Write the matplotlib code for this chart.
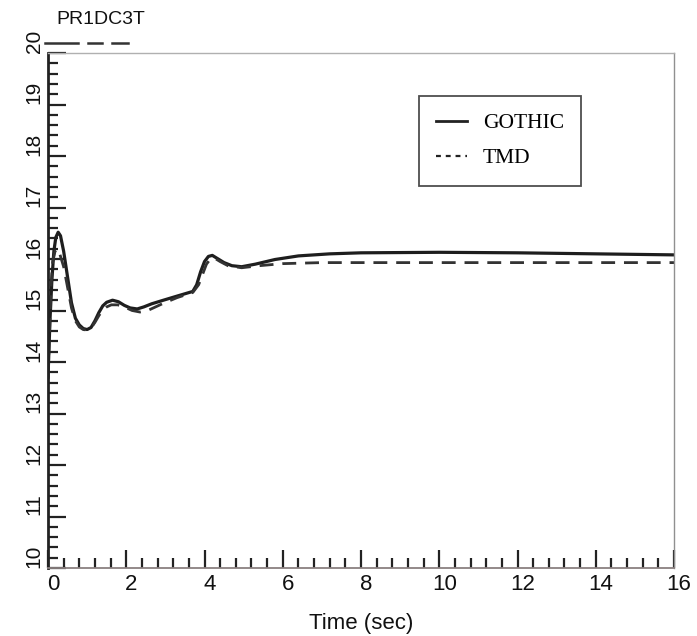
import matplotlib
matplotlib.use('Agg')
import matplotlib.pyplot as plt
from matplotlib.lines import Line2D
from matplotlib.transforms import ScaledTranslation

# values
t_gothic = [0.0, 0.05, 0.1, 0.15, 0.2, 0.26, 0.32, 0.4, 0.5, 0.6, 0.7, 0.8, 0.9, 1.0,
            1.1, 1.2, 1.3, 1.4, 1.5, 1.65, 1.8, 1.95, 2.1, 2.28, 2.45, 2.65, 2.95, 3.3,
            3.7, 3.8, 3.9, 4.0, 4.1, 4.2, 4.35, 4.5, 4.7, 4.95, 5.3, 5.8, 6.4, 7.2, 8.0,
            10.0, 12.0, 14.0, 16.0]
gothic = [13.7, 14.8, 15.6, 16.15, 16.42, 16.52, 16.45, 16.15, 15.65, 15.15, 14.85, 14.72,
          14.65, 14.63, 14.67, 14.8, 14.96, 15.09, 15.16, 15.2, 15.17, 15.1, 15.05, 15.03,
          15.07, 15.13, 15.2, 15.28, 15.37, 15.5, 15.75, 15.95, 16.05, 16.07, 16.0, 15.93,
          15.87, 15.85, 15.9, 15.99, 16.06, 16.1, 16.12, 16.13, 16.12, 16.1, 16.08]

t_tmd = [0.0, 0.04, 0.08, 0.12, 0.18, 0.24, 0.3, 0.4, 0.5, 0.6, 0.7, 0.8, 0.9, 1.0, 1.1,
         1.2, 1.3, 1.4, 1.5, 1.62, 1.78, 1.95, 2.15, 2.35, 2.55, 2.75, 2.95, 3.3, 3.7, 3.85,
         3.95, 4.05, 4.15, 4.25, 4.4, 4.6, 4.95, 5.4, 6.0, 7.0, 8.0, 10.0, 12.0, 14.0, 16.0]
tmd = [13.7, 14.6, 15.5, 15.95, 16.15, 16.2, 16.1, 15.85, 15.45, 15.05, 14.8, 14.68,
       14.63, 14.62, 14.66, 14.77, 14.9, 15.01, 15.07, 15.11, 15.11, 15.07, 15.0, 14.97,
       15.0, 15.07, 15.14, 15.25, 15.35, 15.5, 15.7, 15.9, 16.0, 16.02, 15.95, 15.87,
       15.83, 15.87, 15.91, 15.93, 15.93, 15.93, 15.93, 15.93, 15.93]

xticks = [0, 2, 4, 6, 8, 10, 12, 14, 16]
yticks = [10, 11, 12, 13, 14, 15, 16, 17, 18, 19, 20]

sans = ['Liberation Sans Narrow', 'Liberation Sans', 'DejaVu Sans']
serif = ['Liberation Serif', 'DejaVu Serif']

fig = plt.figure(figsize=(6.97, 6.36), dpi=100)
ax = fig.add_axes([48/697, 1-568/636, 626/697, 515/636])

ax.plot(t_gothic, gothic, color='#1e1e1e', lw=2.3)
ax.plot(t_tmd, tmd, color='#333333', lw=2.0, dashes=(5, 3.2))

ax.set_xlim(0, 16)
ax.set_ylim(10, 20)
ax.set_xticks(xticks)
ax.set_yticks(yticks)
ax.set_xticks([i*0.4 for i in range(41)], minor=True)
ax.set_yticks([10 + i*0.2 for i in range(51)], minor=True)
ax.tick_params(which='both', direction='in', colors='#222', width=1.6,
               top=False, right=False)
ax.tick_params(which='major', length=13, pad=4)
ax.tick_params(which='minor', length=7)
ax.tick_params(axis='y', pad=3)

ax.set_xticklabels([str(v) for v in xticks], fontsize=16, family=sans, color='#111')
ax.set_yticklabels([str(v) for v in yticks], fontsize=15, family=sans, color='#111',
                   rotation=90, va='center')
for lab in ax.get_xticklabels():
    lab.set_transform(lab.get_transform() + ScaledTranslation(5/100, 0, fig.dpi_scale_trans))
for lab in ax.get_yticklabels():
    lab.set_transform(lab.get_transform() + ScaledTranslation(0, 12/100, fig.dpi_scale_trans))

ax.set_xlabel('Time (sec)', fontsize=16, family=sans, color='#111', labelpad=13)

ax.spines['left'].set_color('#222')
ax.spines['left'].set_linewidth(2.0)
ax.spines['bottom'].set_color('#8a8080')
ax.spines['bottom'].set_linewidth(1.3)
ax.spines['top'].set_color('#b0b0b0')
ax.spines['top'].set_linewidth(1.0)
ax.spines['right'].set_color('#909090')
ax.spines['right'].set_linewidth(1.0)

# legend
handles = [Line2D([], [], color='#222', lw=2.0),
           Line2D([], [], color='#222', lw=1.6, dashes=(2.2, 2.2))]
leg = ax.legend(handles, ['GOTHIC', 'TMD'], loc='upper left',
                bbox_to_anchor=(0.593, 0.9165), prop={'family': serif, 'size': 15.5},
                frameon=True, fancybox=False, borderpad=0.8, labelspacing=0.7,
                handlelength=1.4, handletextpad=0.75, borderaxespad=0)
leg.get_frame().set_edgecolor('#222')
leg.get_frame().set_linewidth(1.3)

# title with line sample beneath
fig.text(56/697, 1-20/636, 'PR1DC3T', fontsize=14, family=sans, color='#111',
         ha='left', va='center')
for x0, x1 in [(45, 78), (88, 102), (112, 128)]:
    fig.add_artist(Line2D([x0/697, x1/697], [1-42.5/636, 1-42.5/636],
                          color='#333', lw=1.8, transform=fig.transFigure))

fig.savefig('out.png', dpi=100)
